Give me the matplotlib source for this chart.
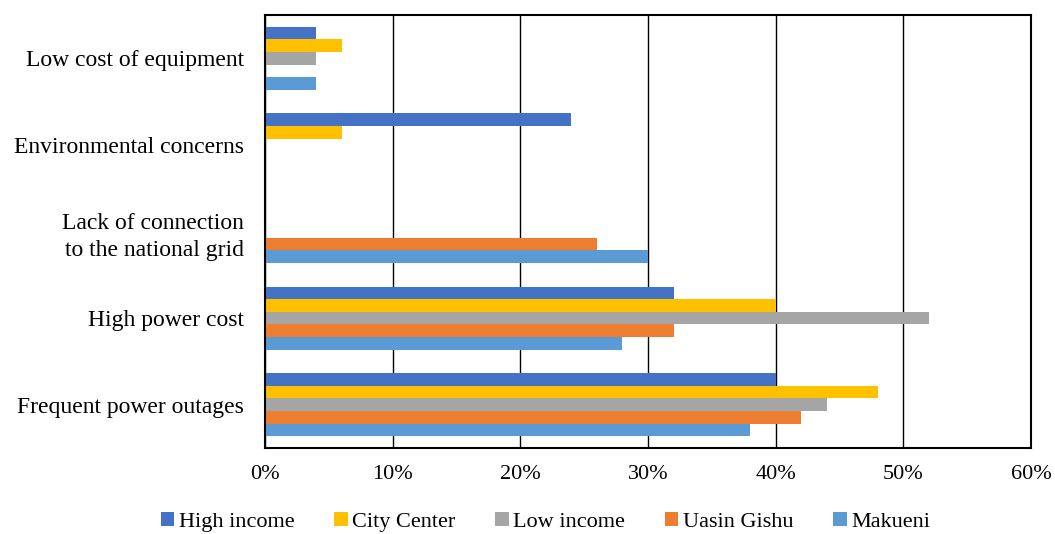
import matplotlib
matplotlib.use("Agg")
import matplotlib.pyplot as plt
import matplotlib.ticker
import numpy as np

matplotlib.rc('font', **{'family': 'Liberation Serif', 'size': 16})

categories = ["Frequent power outages", "High power cost",
              "Lack of connection\nto the national grid",
              "Environmental concerns", "Low cost of equipment"]
series = ["High income", "City Center", "Low income", "Uasin Gishu", "Makueni"]
colors = ["#4472C4", "#FFC000", "#A5A5A5", "#ED7D31", "#5B9BD5"]

high_income = [40, 32, 0, 24, 4]
city_center = [48, 40, 0, 6, 6]
low_income = [44, 52, 0, 0, 4]
uasin_gishu = [42, 32, 26, 0, 0]
makueni = [38, 28, 30, 0, 4]
values = [high_income, city_center, low_income, uasin_gishu, makueni]


def main():
	fig = plt.figure(figsize=(10.55, 5.34), dpi=100)
	ax = fig.add_axes([0.2512, 0.161, 0.7261, 0.811])

	y = np.arange(len(categories))
	h = 0.145
	for i, (name, vals, col) in enumerate(zip(series, values, colors)):
		offset = (2 - i) * h
		ax.barh(y + offset, vals, height=h, color=col, label=name,
				linewidth=0, zorder=3)

	ax.set_xlim(0, 60)
	ax.set_ylim(-0.5, len(categories) - 0.5)
	ax.set_yticks(y)
	ax.set_yticklabels(categories, ha="right", multialignment="right",
					   fontsize=17, linespacing=1.4)
	ax.xaxis.set_major_locator(matplotlib.ticker.MultipleLocator(10))
	ax.xaxis.set_major_formatter(matplotlib.ticker.StrMethodFormatter("{x:.0f}%"))
	ax.tick_params(axis="y", length=0, pad=15)
	ax.tick_params(axis="x", length=0, pad=12)
	ax.xaxis.grid(color="black", linewidth=1.0, zorder=0)
	ax.set_axisbelow(True)
	for s in ax.spines.values():
		s.set_linewidth(1.5)
		s.set_color("black")
		s.set_zorder(4)

	ax.legend(loc="center", bbox_to_anchor=(0.366, -0.17), ncol=5,
			  frameon=False, handlelength=0.6, handleheight=0.6,
			  handletextpad=0.2, columnspacing=1.8, borderaxespad=0)

	fig.savefig("out.png", dpi=100)


if __name__ == "__main__": main()
